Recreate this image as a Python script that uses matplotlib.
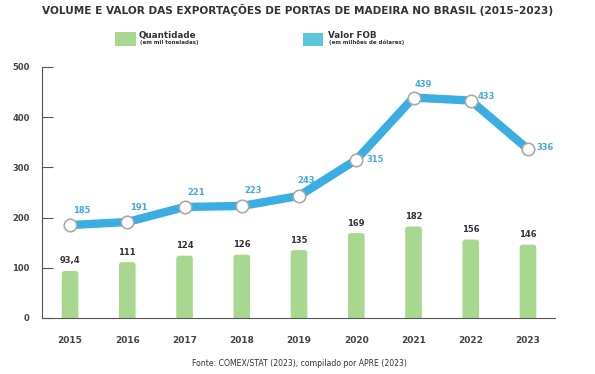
import numpy as np
import matplotlib
matplotlib.use("Agg")
import matplotlib.pyplot as plt
from matplotlib.patches import FancyBboxPatch, Rectangle

anos = ["2015", "2016", "2017", "2018", "2019", "2020", "2021", "2022", "2023"]
quantidade = [93.4, 111, 124, 126, 135, 169, 182, 156, 146]
quant_labels = ["93,4", "111", "124", "126", "135", "169", "182", "156", "146"]
valor_fob = [185, 191, 221, 223, 243, 315, 439, 433, 336]

verde = "#a8d890"
azul = "#3aaee2"
azul_txt = "#45a9dd"
escuro = "#333333"

plt.rcParams['font.family'] = ['DejaVu Sans']

fig = plt.figure(figsize=(5.95, 3.74), dpi=100)
ax = fig.add_axes([0.0706, 0.150, 0.862, 0.671])

x = np.arange(len(anos))
bw = 0.29
r = 0.05
asp = (1 / 0.502) / (1 / 57.25)
for xi, q, lab in zip(x, quantidade, quant_labels):
    p = FancyBboxPatch((xi - bw / 2 + r, -10), bw - 2 * r, q + 10 - r * asp,
                       boxstyle=f"round,pad={r},rounding_size={r}",
                       mutation_aspect=asp, fc=verde, ec="none", zorder=2)
    ax.add_patch(p)
    ax.annotate(lab, (xi, q), xytext=(0, 4), textcoords="offset points",
                ha="center", va="bottom", fontsize=6, fontweight="bold",
                color=escuro)

ax.plot(x, valor_fob, color=azul, lw=6, zorder=3, solid_joinstyle="miter")
ax.plot(x, valor_fob, ls="none", marker="o", ms=9, mfc="white",
        mec="#aaaaaa", mew=1.2, zorder=4)

offsets = [(2, 7), (2, 7), (2, 7), (2, 8), (-1, 8), (7, 0), (1, 6), (5, 3), (6, 1)]
vas = ["bottom"] * 5 + ["center", "bottom", "center", "center"]
for xi, v, off, va in zip(x, valor_fob, offsets, vas):
    ax.annotate(str(v), (xi, v), xytext=off, textcoords="offset points",
                ha="left", va=va, fontsize=6, fontweight="bold",
                color=azul_txt, zorder=5)

ax.set_xlim(-0.49, 8.47)
ax.set_ylim(0, 500)
ax.set_yticks([0, 100, 200, 300, 400, 500])
ax.set_xticks(x)
ax.set_xticklabels(anos)
for s in ["top", "right"]:
    ax.spines[s].set_visible(False)
ax.spines["left"].set_color("#555555")
ax.spines["bottom"].set_color("#555555")
ax.tick_params(axis="y", direction="in", length=8, color="#555555",
               labelsize=6, pad=9, labelcolor="#444444")
ax.tick_params(axis="x", length=0, labelsize=6.5, pad=13, labelcolor="#444444")
for t in ax.get_xticklabels() + ax.get_yticklabels():
    t.set_fontweight("bold")

fig.text(0.5, 1 - 10 / 374, "VOLUME E VALOR DAS EXPORTAÇÕES DE PORTAS DE MADEIRA NO BRASIL (2015–2023)",
         ha="center", va="center", fontsize=7.6, fontweight="bold", color=escuro)

# legenda
fig.patches.append(Rectangle((115 / 595, 1 - 46 / 374), 21 / 595, 13.5 / 374,
                             transform=fig.transFigure, fc=verde, ec="none"))
fig.patches.append(Rectangle((302.7 / 595, 1 - 46 / 374), 20.6 / 595, 13 / 374,
                             transform=fig.transFigure, fc="#5ec6dc", ec="none"))
fig.text(139 / 595, 1 - 35.5 / 374, "Quantidade", fontsize=6.3, fontweight="bold",
         color=escuro, va="center")
fig.text(139.5 / 595, 1 - 42.3 / 374, "(em mil toneladas)", fontsize=4.0,
         fontweight="bold", color=escuro, va="center")
fig.text(327.7 / 595, 1 - 35.5 / 374, "Valor FOB", fontsize=6.3, fontweight="bold",
         color=escuro, va="center")
fig.text(329 / 595, 1 - 42.3 / 374, "(em milhões de dólares)", fontsize=4.0,
         fontweight="bold", color=escuro, va="center")

fig.text(299 / 595, 1 - 363 / 374, "Fonte: COMEX/STAT (2023), compilado por APRE (2023)",
         ha="center", va="center", fontsize=5.6, color=escuro)

fig.savefig("out.png", dpi=100)
